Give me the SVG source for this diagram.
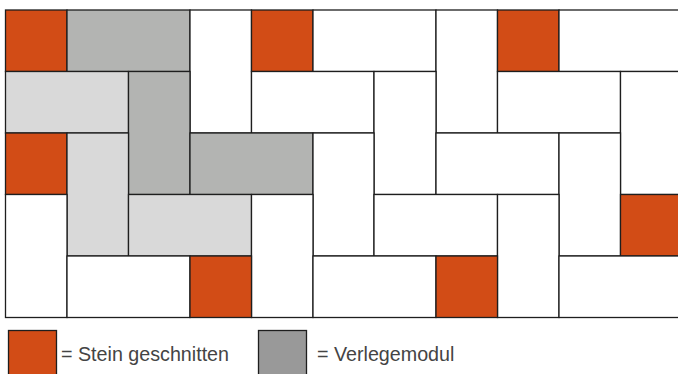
<svg xmlns="http://www.w3.org/2000/svg" width="678" height="374" viewBox="0 0 678 374">
<style>
.t{stroke:#1e1e1e;stroke-width:1.3}
.w{fill:#ffffff}
.o{fill:#d24c16}
.g{fill:#b3b4b2}
.l{fill:#d9d9d9}
.lg{font-family:"Liberation Sans",Arial,sans-serif;font-size:19.7px;fill:#444444}
</style>
<rect x="0" y="0" width="678" height="374" fill="#ffffff"/>
<g id="tiles">
<!-- row 0 -->
<g id="r0c0"><rect class="t o" x="5.5" y="10" width="61.5" height="61.5"/></g>
<g id="r0c1"><rect class="t g" x="67" y="10" width="123" height="61.5"/></g>
<g id="r0c3"><rect class="t w" x="190" y="10" width="61.5" height="123"/></g>
<g id="r0c4"><rect class="t o" x="251.5" y="10" width="61.5" height="61.5"/></g>
<g id="r0c5"><rect class="t w" x="313" y="10" width="123" height="61.5"/></g>
<g id="r0c7"><rect class="t w" x="436" y="10" width="61.5" height="123"/></g>
<g id="r0c8"><rect class="t o" x="497.5" y="10" width="61.5" height="61.5"/></g>
<g id="r0c9"><rect class="t w" x="559" y="10" width="123" height="61.5"/></g>
<!-- row 1 -->
<g id="r1c0"><rect class="t l" x="5.5" y="71.5" width="123" height="61.5"/></g>
<g id="r1c2"><rect class="t g" x="128.5" y="71.5" width="61.5" height="123"/></g>
<g id="r1c4"><rect class="t w" x="251.5" y="71.5" width="122.5" height="61.5"/></g>
<g id="r1c6"><rect class="t w" x="374" y="71.5" width="62" height="123"/></g>
<g id="r1c8"><rect class="t w" x="497.5" y="71.5" width="123" height="61.5"/></g>
<g id="r1c10"><rect class="t w" x="620.5" y="71.5" width="61.5" height="123"/></g>
<!-- row 2 -->
<g id="r2c0"><rect class="t o" x="5.5" y="133" width="61.5" height="61.5"/></g>
<g id="r2c1"><rect class="t l" x="67" y="133" width="61.5" height="123"/></g>
<g id="r2c3"><rect class="t g" x="190" y="133" width="123" height="61.5"/></g>
<g id="r2c5"><rect class="t w" x="313" y="133" width="61" height="123"/></g>
<g id="r2c7"><rect class="t w" x="436" y="133" width="123" height="61.5"/></g>
<g id="r2c9"><rect class="t w" x="559" y="133" width="61.5" height="123"/></g>
<!-- row 3 -->
<g id="r3c0"><rect class="t w" x="5.5" y="194.5" width="61.5" height="123"/></g>
<g id="r3c2"><rect class="t l" x="128.5" y="194.5" width="123" height="61.5"/></g>
<g id="r3c4"><rect class="t w" x="251.5" y="194.5" width="61.5" height="123"/></g>
<g id="r3c6"><rect class="t w" x="374" y="194.5" width="123.5" height="61.5"/></g>
<g id="r3c8"><rect class="t w" x="497.5" y="194.5" width="61.5" height="123"/></g>
<g id="r3c10"><rect class="t o" x="620.5" y="194.5" width="61.5" height="61.5"/></g>
<!-- row 4 -->
<g id="r4c1"><rect class="t w" x="67" y="256" width="123" height="61.5"/></g>
<g id="r4c3"><rect class="t o" x="190" y="256" width="61.5" height="61.5"/></g>
<g id="r4c5"><rect class="t w" x="313" y="256" width="123" height="61.5"/></g>
<g id="r4c7"><rect class="t o" x="436" y="256" width="61.5" height="61.5"/></g>
<g id="r4c9"><rect class="t w" x="559" y="256" width="123" height="61.5"/></g>
</g>
<g id="connectors"></g>
<g id="legend-cut">
<rect class="t o" x="8.5" y="330.5" width="48" height="50"/>
<text class="lg" x="61" y="361">= Stein geschnitten</text>
</g>
<g id="legend-module">
<rect class="t" fill="#999999" x="258.5" y="330.5" width="48" height="50"/>
<text class="lg" x="317" y="361">= Verlegemodul</text>
</g>
</svg>
